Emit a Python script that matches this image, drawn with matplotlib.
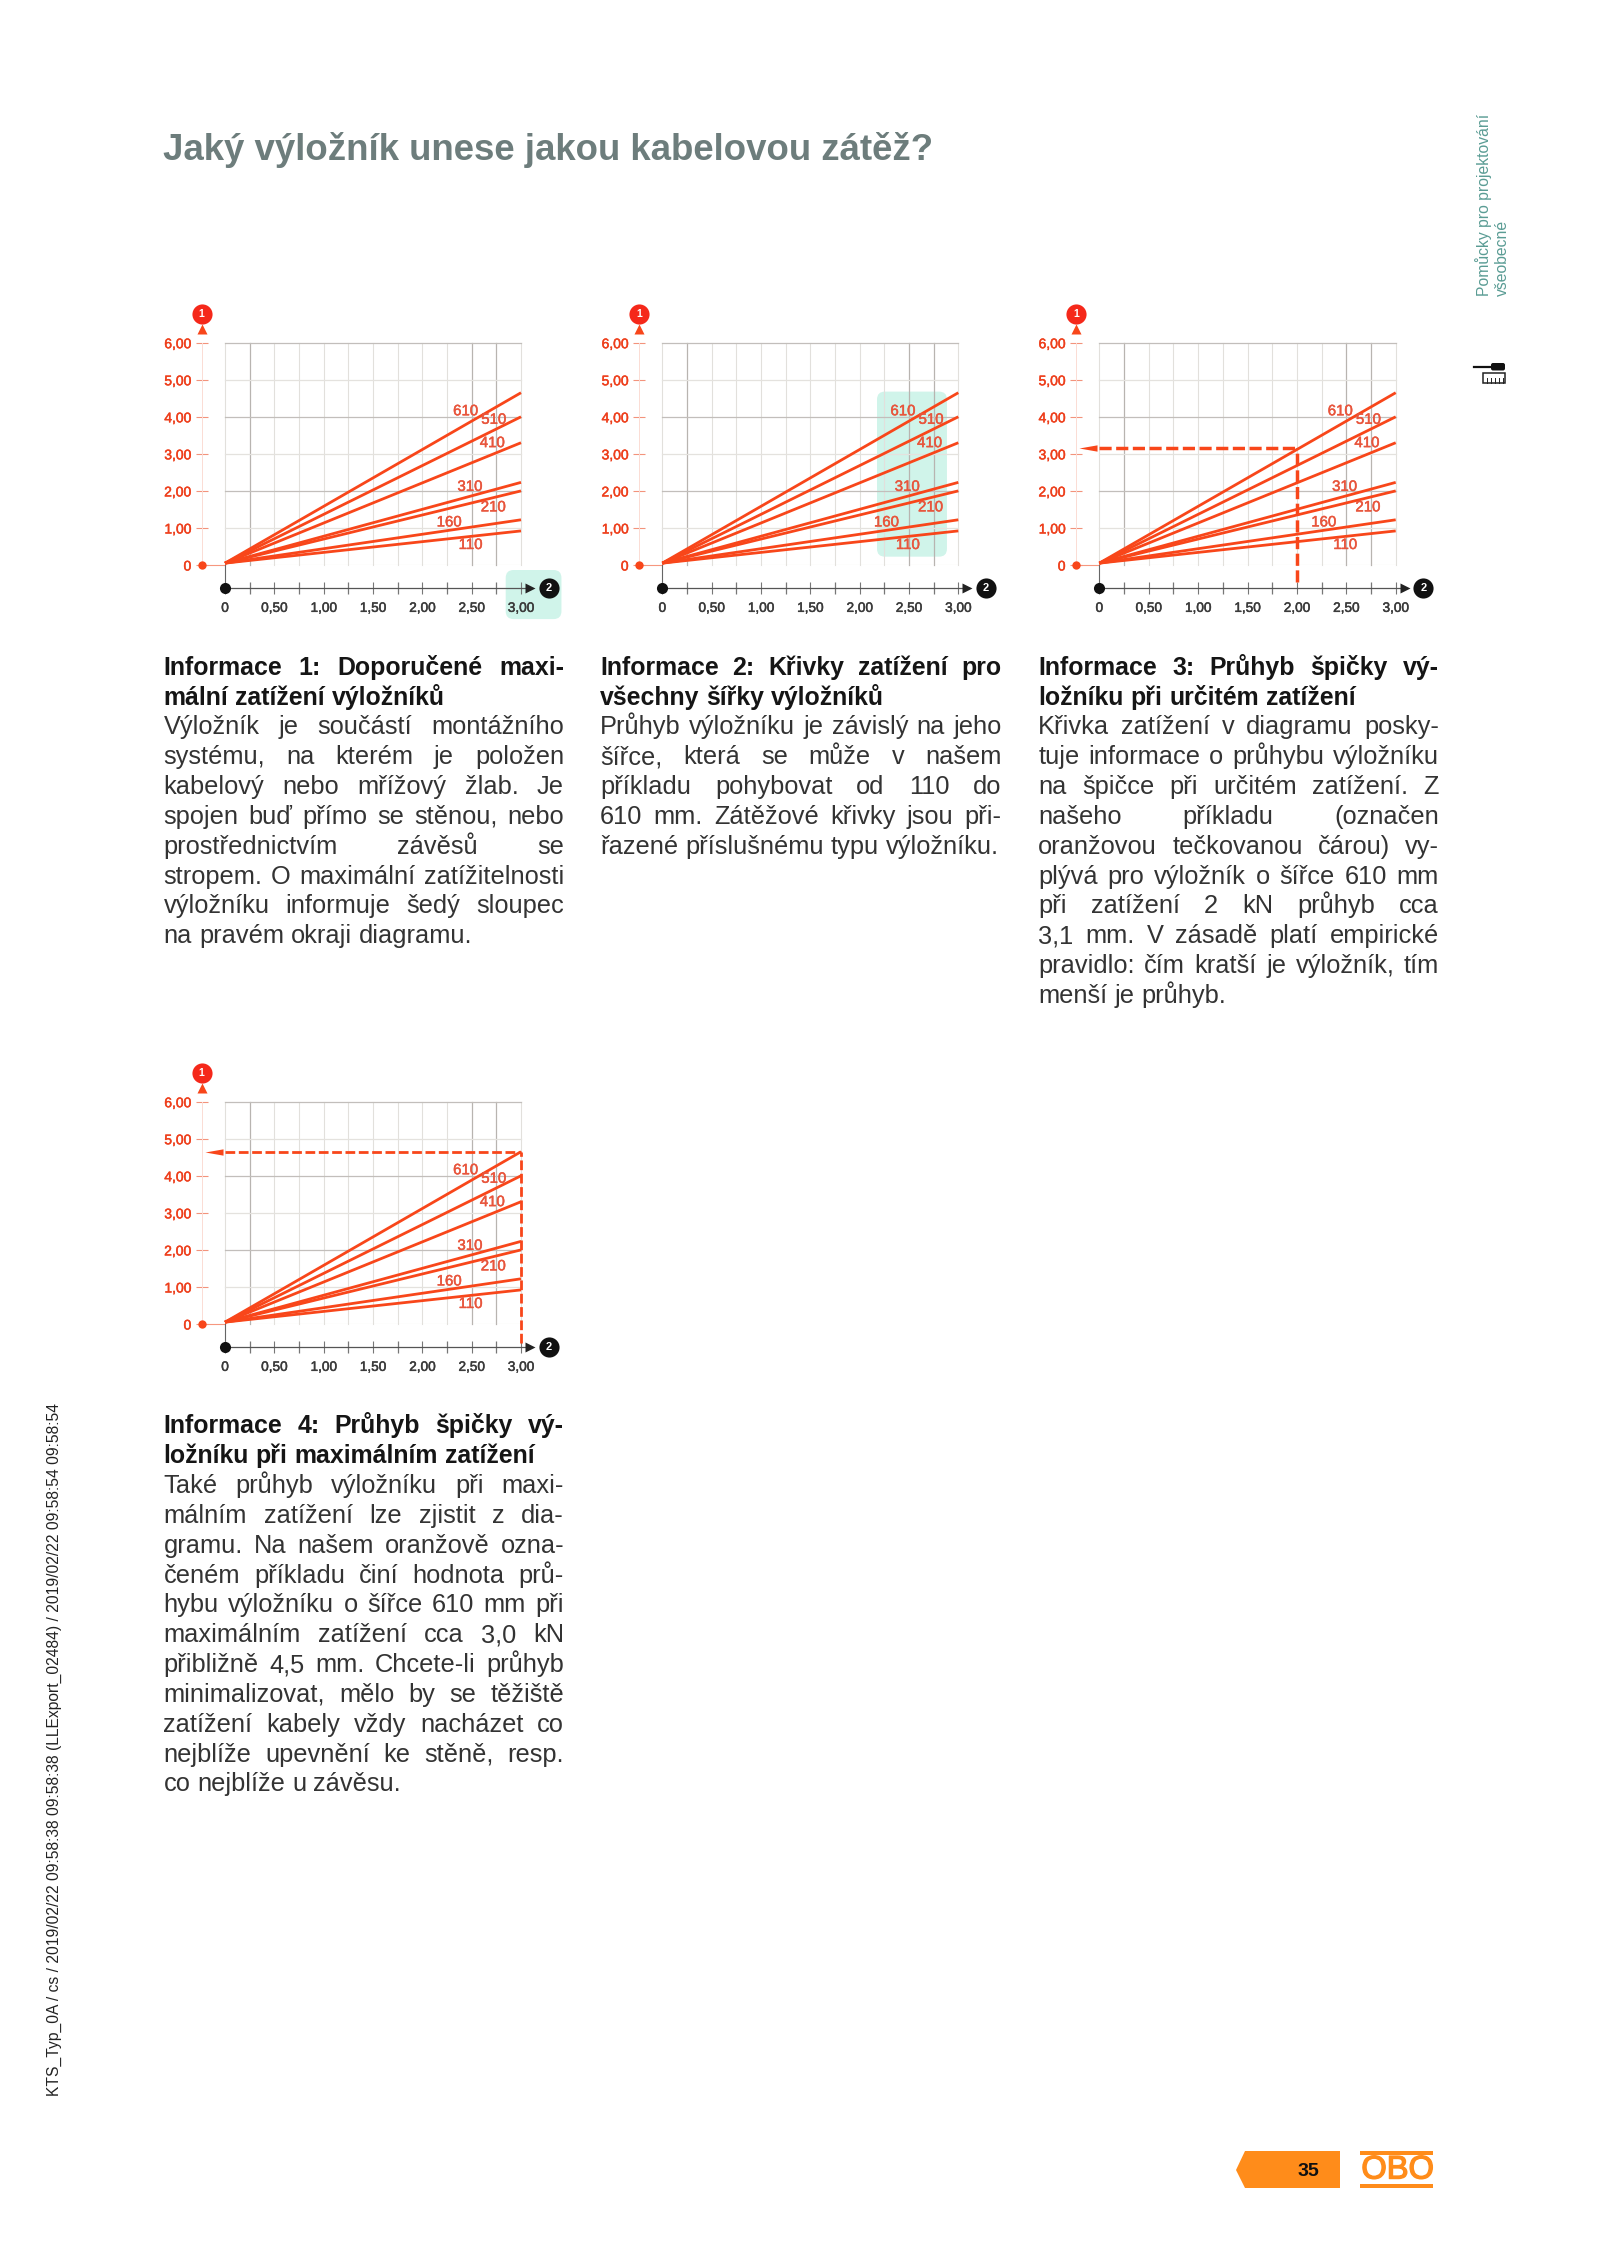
import matplotlib
matplotlib.use("Agg")
import matplotlib.pyplot as plt
import matplotlib.patheffects as pe
from matplotlib.patches import FancyBboxPatch, Polygon, Rectangle

plt.rcParams['font.family'] = ['Liberation Sans', 'DejaVu Sans']

W, H = 1600, 2245
# ---------- data ----------
x_major = [0, 0.5, 1.0, 1.5, 2.0, 2.5, 3.0]
x_labels = ['0', '0,50', '1,00', '1,50', '2,00', '2,50', '3,00']
x_minor = [0.25, 0.75, 1.25, 1.75, 2.25, 2.75]
y_ticks = [0, 1, 2, 3, 4, 5, 6]
y_labels = ['0', '1,00', '2,00', '3,00', '4,00', '5,00', '6,00']
widths = ['610', '510', '410', '310', '210', '160', '110']
start_load = [0.05] * 7
end_load = [4.65, 4.00, 3.30, 2.23, 2.00, 1.22, 0.92]
span = [0, 3.0]
label_x = [2.44, 2.725, 2.71, 2.483, 2.72, 2.273, 2.49]
label_y = [4.15, 3.92, 3.29, 2.11, 1.556, 1.15, 0.54]
# darker grid lines
grid_dark_x = [0.25, 2.5, 2.75]
grid_dark_y = [2, 4, 6]

title = 'Jaký výložník unese jakou kabelovou zátěž?'
side_note = ['Pomůcky pro projektování', 'všeobecné']
stamp = 'KTS_Typ_0A / cs / 2019/02/22 09:58:38 09:58:38 (LLExport_02484) / 2019/02/22 09:58:54 09:58:54'
page_no = '35'

head1 = ['Informace 1: Doporučené maxi-', 'mální zatížení výložníků']
body1 = ['Výložník je součástí montážního', 'systému, na kterém je položen',
         'kabelový nebo mřížový žlab. Je', 'spojen buď přímo se stěnou, nebo',
         'prostřednictvím závěsů se', 'stropem. O maximální zatížitelnosti',
         'výložníku informuje šedý sloupec', 'na pravém okraji diagramu.']
head2 = ['Informace 2: Křivky zatížení pro', 'všechny šířky výložníků']
body2 = ['Průhyb výložníku je závislý na jeho', 'šířce, která se může v našem',
         'příkladu pohybovat od 110 do', '610 mm. Zátěžové křivky jsou při-',
         'řazené příslušnému typu výložníku.']
head3 = ['Informace 3: Průhyb špičky vý-', 'ložníku při určitém zatížení']
body3 = ['Křivka zatížení v diagramu posky-', 'tuje informace o průhybu výložníku',
         'na špičce při určitém zatížení. Z', 'našeho příkladu (označen',
         'oranžovou tečkovanou čárou) vy-', 'plývá pro výložník o šířce 610 mm',
         'při zatížení 2 kN průhyb cca', '3,1 mm. V zásadě platí empirické',
         'pravidlo: čím kratší je výložník, tím', 'menší je průhyb.']
head4 = ['Informace 4: Průhyb špičky vý-', 'ložníku při maximálním zatížení']
body4 = ['Také průhyb výložníku při maxi-', 'málním zatížení lze zjistit z dia-',
         'gramu. Na našem oranžově ozna-', 'čeném příkladu činí hodnota prů-',
         'hybu výložníku o šířce 610 mm při', 'maximálním zatížení cca 3,0 kN',
         'přibližně 4,5 mm. Chcete-li průhyb', 'minimalizovat, mělo by se těžiště',
         'zatížení kabely vždy nacházet co', 'nejblíže upevnění ke stěně, resp.',
         'co nejblíže u závěsu.']

# highlight rectangles: (x0, x1, y0, y1) in chart units
hl_axis = (2.845, 3.41, -1.46, -0.135)
hl_curves = (2.176, 2.885, 0.225, 4.68)
# read-off guides: (x, y, lower end of the vertical)
guide3 = (2.0, 3.15, -0.45)
guide4 = (3.0, 4.65, -0.5)

RED = '#f8461a'
LBL = '#e8553c'
TEAL = '#d0f4ea'
ARROW = [(-1, 0), (1, 0.35), (1, -0.35)]

fig = plt.figure(figsize=(W / 100, H / 100), dpi=100, facecolor='white')
ov = fig.add_axes([0, 0, 1, 1], zorder=0)
ov.set_xlim(0, W); ov.set_ylim(H, 0); ov.axis('off')


def heavier(color, width=0.35):
    return [pe.withStroke(linewidth=width, foreground=color)]


def chart(left, right, y_zero, y_six, highlight=None, guide=None, guide_lw=2.2):
    ax = fig.add_axes([left / W, 1 - y_zero / H, (right - left) / W, (y_zero - y_six) / H], zorder=2)
    ax.patch.set_alpha(0)
    ax.set_xlim(0, 3); ax.set_ylim(0, 6)
    axis_y = -0.63
    spine_x = -0.236
    for s in ['top', 'right']:
        ax.spines[s].set_visible(False)
    ax.spines['left'].set_position(('data', spine_x))
    ax.spines['left'].set_color('#fbdcd4'); ax.spines['left'].set_linewidth(0.7)
    ax.spines['bottom'].set_position(('data', axis_y))
    ax.spines['bottom'].set_bounds(0, 3.08)
    ax.spines['bottom'].set_color('#555555'); ax.spines['bottom'].set_linewidth(0.9)
    ax.set_xticks(x_major, x_labels, fontsize=9.8, color='#3a3a3a')
    ax.set_xticks(x_minor, minor=True)
    ax.tick_params(axis='x', which='major', direction='inout', length=8, width=0.8, color='#777777', pad=5)
    ax.tick_params(axis='x', which='minor', direction='inout', length=9, width=0.9, color='#777777')
    ax.set_yticks(y_ticks, y_labels, fontsize=10, color='#ee3f1c')
    ax.tick_params(axis='y', direction='inout', length=8, width=0.8, color='#f3937c', pad=3.5)
    for t in ax.get_xticklabels():
        t.set_path_effects(heavier('#3a3a3a'))
    for t in ax.get_yticklabels():
        t.set_path_effects(heavier('#ee3f1c'))
    if highlight:
        x0, x1, y0, y1 = highlight
        ax.add_patch(FancyBboxPatch((x0, y0), x1 - x0, y1 - y0,
                                    boxstyle='round,pad=0,rounding_size=0.08',
                                    mutation_aspect=2.66, fc=TEAL, ec='none',
                                    clip_on=False, zorder=0))
    for v in [0] + x_minor + x_major[1:]:
        dark = v in grid_dark_x
        ax.plot([v, v], [0, 6], color='#b8b4b0' if dark else '#e2e0dc', lw=0.9 if dark else 0.8, zorder=1, clip_on=False)
    for v in y_ticks[1:]:
        dark = v in grid_dark_y
        ax.plot([0, 3], [v, v], color='#c2bebb' if dark else '#e4e2de', lw=0.9, zorder=1, clip_on=False)
    ax.plot([0, 3], [0, 0], color='#dedbd6', lw=0.8, zorder=1)
    ax.plot([spine_x, 0], [0, 0], color='#f6977f', lw=0.8, zorder=1, clip_on=False)
    ax.plot([0, 0], [axis_y, 0], color='#666666', lw=0.8, zorder=1, clip_on=False)
    for s, e, lbl, lx, ly in zip(start_load, end_load, widths, label_x, label_y):
        ax.plot(span, [s, e], color=RED, lw=2.0, zorder=4, clip_on=False, solid_capstyle='butt')
        ax.text(lx, ly, lbl, color=LBL, fontsize=10.8, ha='center', va='center', zorder=5,
                path_effects=heavier(LBL))
    if guide:
        gx, gy, gb = guide
        ax.plot([0, gx], [gy, gy], color=RED, lw=guide_lw, ls=(0, (3.5, 1.3)), zorder=6, clip_on=False)
        ax.plot([gx, gx], [gb, gy], color=RED, lw=guide_lw, ls=(0, (3.5, 1.3)), zorder=6, clip_on=False)
        ax.plot([-0.11], [gy], marker=ARROW, ms=13, color=RED, mec='none', zorder=6, clip_on=False)
    # axis furniture
    ax.plot([spine_x], [6.36], marker='^', ms=7.5, color=RED, mec='none', clip_on=False, zorder=6)
    ax.plot([spine_x], [0], marker='o', ms=6, color=RED, mec='none', clip_on=False, zorder=6)
    ax.plot([0], [axis_y], marker='o', ms=8, color='#111111', mec='none', clip_on=False, zorder=6)
    ax.plot([3.09], [axis_y], marker='>', ms=7, color='#222222', mec='none', clip_on=False, zorder=6)
    ax.plot([spine_x], [6.775], marker='o', ms=14.5, color='#f5281a', mec='none', clip_on=False, zorder=6)
    ax.text(spine_x, 6.765, '1', color='white', fontsize=7.5, fontweight='bold', ha='center', va='center', zorder=7)
    ax.plot([3.28], [axis_y], marker='o', ms=14.5, color='#111111', mec='none', clip_on=False, zorder=6)
    ax.text(3.28, axis_y, '2', color='white', fontsize=8, fontweight='bold', ha='center', va='center', zorder=7)
    return ax


chart(225, 521, 565, 342.7, highlight=hl_axis)
chart(662.3, 958.3, 565, 342.7, highlight=hl_curves)
chart(1099.3, 1395.7, 565, 342.7, guide=guide3, guide_lw=2.5)
chart(225, 521, 1324, 1101.7, guide=guide4, guide_lw=2.0)

renderer = fig.canvas.get_renderer()


def justified(line, x0, x1, y, size, weight, color, last):
    words = line.split(' ')
    arts = [ov.text(x0, y, w, fontsize=size, fontweight=weight, color=color, ha='left', va='baseline') for w in words]
    ws = [a.get_window_extent(renderer).width for a in arts]
    probe = ov.text(0, 0, 'n n', fontsize=size, fontweight=weight)
    pn = ov.text(0, 0, 'nn', fontsize=size, fontweight=weight)
    sp = probe.get_window_extent(renderer).width - pn.get_window_extent(renderer).width
    probe.remove(); pn.remove()
    gap = sp if last or len(words) == 1 else (x1 - x0 - sum(ws)) / (len(words) - 1)
    x = x0
    for a, w in zip(arts, ws):
        a.set_x(x)
        x += w + gap


def block(head, body, x0, x1, y0, step=29.83):
    y = y0
    for i, l in enumerate(head):
        justified(l, x0, x1, y, 17.9, 'bold', '#151515', i == len(head) - 1)
        y += step
    for i, l in enumerate(body):
        justified(l, x0, x1, y, 18.3, 'normal', '#333333', i == len(body) - 1)
        y += step


block(head1, body1, 163.5, 564, 674.7)
block(head2, body2, 600, 1001.5, 674.7)
block(head3, body3, 1038.3, 1439, 674.7)
block(head4, body4, 163.5, 564, 1433.4)

ov.text(163, 160, title, fontsize=26.4, fontweight='bold', color='#6d7d7c', ha='left', va='baseline')
ov.text(1484, 296, side_note[0], fontsize=11.35, color='#5a9c94', rotation=90, ha='center', va='bottom')
ov.text(1502, 296, side_note[1], fontsize=11.35, color='#5a9c94', rotation=90, ha='center', va='bottom')
ov.text(54, 2096, stamp, fontsize=11.25, color='#222222', rotation=90, ha='center', va='bottom')

# tool pictogram
ov.add_patch(Rectangle((1483, 373), 22, 10, fc='white', ec='#222222', lw=1.1))
ov.plot([1474, 1490], [366.7, 366.7], color='#111111', lw=1.6)
ov.add_patch(FancyBboxPatch((1491, 363), 14, 7.5, boxstyle='round,pad=0,rounding_size=2', fc='#111111', ec='none'))
for tx in [1487, 1491, 1495, 1499, 1503]:
    ov.plot([tx, tx], [378, 383], color='#222222', lw=0.7)

# page tab and logo
ov.add_patch(Polygon([(1236, 2170), (1245, 2151), (1340, 2151), (1340, 2188), (1245, 2188)], closed=True, fc='#ff8c1a', ec='none'))
ov.text(1308, 2171, page_no, fontsize=14, fontweight='bold', color='#111111', ha='center', va='center')
ov.add_patch(Rectangle((1360, 2151), 73, 4.2, fc='#ff8c1a', ec='none'))
ov.add_patch(Rectangle((1360, 2184), 73, 4.2, fc='#ff8c1a', ec='none'))
ov.text(1397.5, 2170, 'OBO', fontsize=23.5, color='#ff8c1a', ha='center', va='center',
        path_effects=heavier('#ff8c1a', 1.0))

fig.savefig('out.png', dpi=100, facecolor='white')
